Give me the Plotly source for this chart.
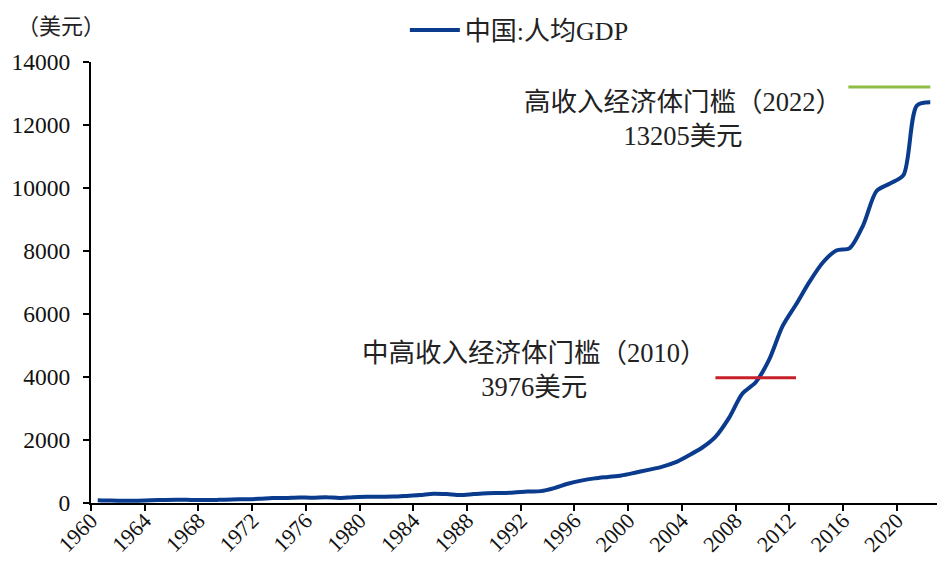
import plotly.graph_objects as go

# China GDP per capita (current US$), 1960-2022
years = list(range(1960, 2023))
gdp_per_capita = [
    89.5, 75.8, 70.9, 74.3, 85.5, 98.5, 104.3, 96.6, 91.5, 100.1,
    113.2, 118.7, 131.9, 157.1, 160.1, 178.3, 165.4, 185.4, 156.4, 183.9,
    194.8, 197.1, 203.3, 225.4, 250.7, 294.5, 281.9, 251.8, 283.5, 310.9,
    317.9, 333.1, 366.5, 377.4, 473.5, 609.7, 709.4, 781.7, 828.6, 873.3,
    959.4, 1053.1, 1148.5, 1288.6, 1508.7, 1753.4, 2099.2, 2693.9, 3468.3, 3832.2,
    4550.5, 5614.4, 6300.6, 7020.4, 7636.1, 8016.4, 8094.4, 8817.0, 9905.3, 10143.9,
    10408.7, 12617.5, 12720.2,
]

# Income thresholds
upper_middle_value = 3976
upper_middle_span = [2006.5, 2012.5]
high_income_value = 13205
high_income_span = [2016.4, 2022.5]

tick_years = list(range(1960, 2021, 4))
y_ticks = list(range(0, 14001, 2000))

FONT = "Liberation Serif, Times New Roman, Noto Sans CJK SC, serif"

# category-style placement: each year sits in the middle of its slot
x_pos = [y + 0.5 for y in years]

fig = go.Figure()
fig.add_trace(go.Scatter(
    x=x_pos, y=gdp_per_capita, mode="lines", name="中国:人均GDP",
    line=dict(color="#0a3b8c", width=4, shape="spline", smoothing=0.8),
))
fig.add_trace(go.Scatter(
    x=upper_middle_span, y=[upper_middle_value] * 2, mode="lines",
    line=dict(color="#c8202a", width=3), showlegend=False, hoverinfo="skip",
))
fig.add_trace(go.Scatter(
    x=high_income_span, y=[high_income_value] * 2, mode="lines",
    line=dict(color="#8fbc45", width=3), showlegend=False, hoverinfo="skip",
))

fig.add_annotation(x=2004.1, y=12190, xref="x", yref="y",
                   text="高收入经济体门槛（2022）<br>13205美元", showarrow=False,
                   font=dict(size=26.5, color="#222", family=FONT), align="center")
fig.add_annotation(x=1993.0, y=4222, xref="x", yref="y",
                   text="中高收入经济体门槛（2010）<br>3976美元", showarrow=False,
                   font=dict(size=26.5, color="#222", family=FONT), align="center")
fig.add_annotation(x=-0.0349, y=1.0794, xref="paper", yref="paper",
                   text="（美元）", showarrow=False, xanchor="center", yanchor="middle",
                   font=dict(size=22, color="#222", family=FONT))

fig.update_layout(
    width=937, height=563,
    margin=dict(l=91, r=0, t=62, b=60),
    paper_bgcolor="white", plot_bgcolor="white",
    font=dict(family=FONT, size=23, color="#111"),
    showlegend=True,
    legend=dict(x=0.371, y=1.0726, xanchor="left", yanchor="middle", orientation="h",
                font=dict(size=26, family=FONT, color="#222"), bgcolor="rgba(0,0,0,0)",
                itemwidth=50),
)
fig.update_xaxes(
    range=[1960, 2023], tickmode="array", tickvals=tick_years,
    ticktext=[str(t) for t in tick_years], tickangle=-45, automargin=False,
    ticklabelstandoff=-12,
    showline=True, linecolor="black", linewidth=2, ticks="outside", ticklen=6,
    tickwidth=2, tickcolor="black", showgrid=False, zeroline=False,
    tickfont=dict(size=22, family=FONT, color="#111"),
)
fig.update_yaxes(
    range=[0, 14000], tickmode="array", tickvals=y_ticks, automargin=False,
    ticktext=[str(t) for t in y_ticks], ticklabelstandoff=8,
    showline=True, linecolor="black", linewidth=2, ticks="outside", ticklen=6,
    tickwidth=2, tickcolor="black", showgrid=False, zeroline=False,
    tickfont=dict(size=23.5, family=FONT, color="#111"),
)

fig.write_html("out.html")
